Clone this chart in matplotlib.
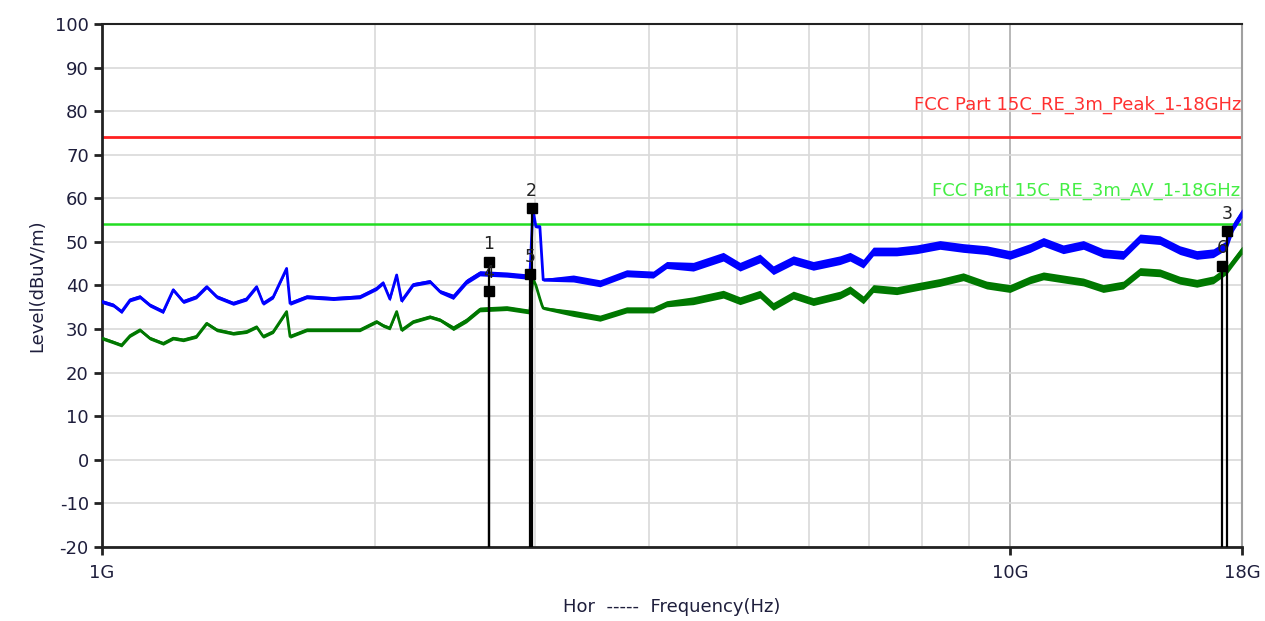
import matplotlib
matplotlib.use("Agg")
from matplotlib import pyplot as plt
from matplotlib.ticker import FixedLocator, NullFormatter

plt.rcParams["axes.unicode_minus"] = False

# frequencies in GHz, levels in dBuV/m
freq_ghz = [1.000, 1.029, 1.051, 1.074, 1.101, 1.129, 1.168, 1.198, 1.229, 1.271,
            1.304, 1.338, 1.395, 1.443, 1.480, 1.505, 1.544, 1.597, 1.611, 1.681,
            1.798, 1.923, 2.006, 2.040, 2.075, 2.111, 2.138, 2.202, 2.297, 2.356,
            2.437, 2.521, 2.607, 2.791, 2.959, 2.982, 3.005, 3.035, 3.051, 3.061,
            3.304, 3.535, 3.782, 4.046, 4.186, 4.478, 4.832, 5.041, 5.303, 5.485,
            5.771, 6.071, 6.496, 6.663, 6.891, 7.068, 7.500, 7.890, 8.369, 8.878,
            9.422, 9.995, 10.52, 10.88, 11.44, 12.04, 12.66, 13.32, 13.90, 14.62,
            15.38, 16.05, 16.74, 17.32, 17.61, 18.00]

peak_level = [36.3, 35.5, 34.0, 36.7, 37.4, 35.5, 34.0, 39.0, 36.3, 37.4,
              39.7, 37.4, 35.9, 36.9, 39.7, 35.9, 37.4, 43.9, 35.9, 37.4,
              37.0, 37.4, 39.3, 40.6, 36.9, 42.4, 36.5, 40.2, 40.9, 38.6,
              37.4, 40.9, 42.8, 42.5, 42.0, 57.5, 53.5, 53.5, 46.0, 41.3,
              41.6, 40.5, 42.8, 42.5, 44.7, 44.3, 46.6, 44.3, 46.2, 43.5,
              45.8, 44.5, 45.8, 46.6, 45.0, 47.8, 47.8, 48.3, 49.3, 48.6,
              48.1, 47.0, 48.6, 50.0, 48.3, 49.3, 47.4, 47.0, 50.8, 50.4,
              48.1, 47.0, 47.4, 49.3, 53.5, 56.6]

avg_level = [27.9, 27.0, 26.3, 28.5, 29.8, 27.9, 26.7, 27.9, 27.5, 28.3,
             31.3, 29.8, 29.0, 29.4, 30.5, 28.3, 29.4, 34.0, 28.3, 29.8,
             29.8, 29.8, 31.7, 30.8, 30.2, 34.0, 29.8, 31.7, 32.8, 32.1,
             30.2, 32.0, 34.5, 34.8, 34.0, 41.6, 40.0, 37.0, 35.5, 34.8,
             33.6, 32.5, 34.4, 34.4, 35.8, 36.5, 38.0, 36.5, 38.0, 35.2,
             37.8, 36.3, 37.8, 39.0, 36.7, 39.3, 38.8, 39.7, 40.7, 42.0,
             40.1, 39.3, 41.3, 42.2, 41.5, 40.8, 39.3, 40.1, 43.2, 42.9,
             41.2, 40.5, 41.3, 43.5, 45.5, 48.1]

# half thickness of the noise band around each trace (dB)
peak_spread = [0.45] * 30 + [0.6] * 5 + [0.3] * 5 + [0.8] * 5 + [1.0] * 31
avg_spread = [0.4] * 30 + [0.55] * 5 + [0.3] * 5 + [0.7] * 5 + [0.9] * 31

marker_ids = ["1", "2", "3", "4", "5", "6"]
marker_freq = [2.668, 2.973, 17.33, 2.668, 2.962, 17.11]
marker_level = [45.5, 57.7, 52.5, 38.8, 42.6, 44.5]

peak_limit = 74.0
avg_limit = 54.0
peak_limit_label = "FCC Part 15C_RE_3m_Peak_1-18GHz"
avg_limit_label = "FCC Part 15C_RE_3m_AV_1-18GHz"

text_col = "#1e1e3c"

fig = plt.figure(figsize=(12.65, 6.21), dpi=100)
ax = fig.add_axes([0.0806, 0.1192, 0.9012, 0.8422])

f_min, f_max = 1e9, 18e9
ax.set_xscale("log")
ax.set_xlim(f_min, f_max)
ax.set_ylim(-20, 100)

# grid
ax.set_yticks(range(-20, 101, 10))
ax.yaxis.grid(True, color="#d9d9d9", lw=1.2)
for g in range(2, 10):
    ax.axvline(g * 1e9, color="#d9d9d9", lw=1.2, zorder=0)
ax.axvline(10e9, color="#b8b8b8", lw=1.4, zorder=0)
ax.set_axisbelow(True)

hz = [v * 1e9 for v in freq_ghz]

for lev, spr, col in [(peak_level, peak_spread, "#0000ff"),
                      (avg_level, avg_spread, "#007800")]:
    lo = [a - b for a, b in zip(lev, spr)]
    hi = [a + b for a, b in zip(lev, spr)]
    ax.fill_between(hz, lo, hi, color=col, lw=0, zorder=3)
    ax.plot(hz, lev, color=col, lw=2.0, zorder=3)

ax.plot([f_min, f_max], [peak_limit, peak_limit], color="#ff2020", lw=2, zorder=2)
ax.plot([f_min, f_max], [avg_limit, avg_limit], color="#22dd22", lw=1.8, zorder=2)
ax.text(f_max * 0.998, peak_limit + 7.5, peak_limit_label, color="#ff3030",
        fontsize=13, ha="right", va="center")
ax.text(f_max * 0.995, avg_limit + 7.7, avg_limit_label, color="#44ee44",
        fontsize=13, ha="right", va="center")

# markers
for mid, mf, ml in zip(marker_ids, marker_freq, marker_level):
    ax.plot([mf * 1e9, mf * 1e9], [-20, ml], color="black", lw=1.6, zorder=4)
    ax.plot(mf * 1e9, ml, marker="s", color="black", ms=6.5, zorder=5)
    ax.text(mf * 1e9, ml + 4.0, mid, color="#222222", fontsize=12.5,
            ha="center", va="center", zorder=6)

# axes look
ax.xaxis.set_major_locator(FixedLocator([1e9, 10e9, 18e9]))
ax.set_xticklabels(["1G", "10G", "18G"])
ax.xaxis.set_minor_formatter(NullFormatter())
ax.tick_params(axis="x", which="minor", length=0)
ax.tick_params(axis="both", which="major", length=6, width=2, color="#222222",
               labelsize=13, labelcolor=text_col)
ax.tick_params(axis="x", pad=6)
for side in ["left", "bottom", "top"]:
    ax.spines[side].set_color("#222222")
ax.spines["left"].set_linewidth(2)
ax.spines["bottom"].set_linewidth(2)
ax.spines["top"].set_linewidth(1.5)
ax.spines["right"].set_color("#a0a0a0")
ax.spines["right"].set_linewidth(1.5)

ax.set_ylabel("Level(dBuV/m)", fontsize=13, color=text_col, labelpad=6)
ax.set_xlabel("Hor  -----  Frequency(Hz)", fontsize=13, color=text_col, labelpad=12)

fig.savefig("out.png", dpi=100)
